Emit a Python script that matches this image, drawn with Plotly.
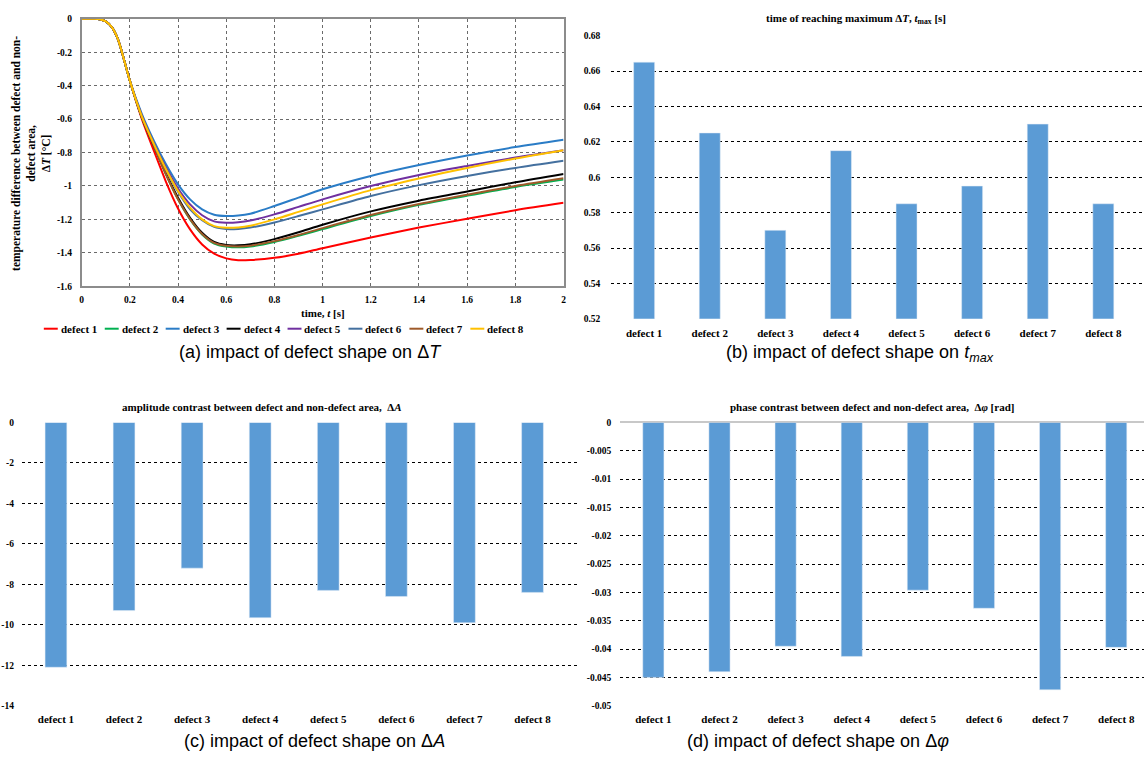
import plotly.graph_objects as go

W, H = 1147, 764

# ---------------- data ----------------
t_vals = [0, 0.05, 0.075, 0.1, 0.125, 0.15, 0.175, 0.2, 0.25, 0.3, 0.35, 0.4, 0.45, 0.5,
          0.55, 0.6, 0.65, 0.7, 0.8, 0.9, 1.0, 1.2, 1.4, 1.6, 1.8, 2.0]
early = [0, 0, -0.002, -0.015, -0.05, -0.12, -0.24, -0.37]
dT_defect1 = early + [-0.60, -0.79, -0.975, -1.135, -1.26, -1.35,
                      -1.405, -1.433, -1.444, -1.443, -1.43, -1.405, -1.372, -1.308, -1.249, -1.196, -1.145, -1.101]
dT_defect2 = early + [-0.59, -0.76, -0.93, -1.08, -1.20, -1.29,
                      -1.344, -1.362, -1.367, -1.362, -1.335, -1.298, -1.258, -1.18, -1.113, -1.058, -1.006, -0.962]
dT_defect3 = early + [-0.57, -0.73, -0.87, -0.99, -1.08, -1.14,
                      -1.172, -1.18, -1.177, -1.166, -1.12, -1.07, -1.02, -0.94, -0.875, -0.818, -0.767, -0.723]
dT_defect4 = early + [-0.59, -0.76, -0.925, -1.07, -1.19, -1.28,
                      -1.335, -1.353, -1.355, -1.349, -1.318, -1.277, -1.232, -1.152, -1.088, -1.033, -0.978, -0.928]
dT_defect5 = early + [-0.58, -0.745, -0.89, -1.015, -1.11, -1.175,
                      -1.212, -1.22, -1.217, -1.207, -1.17, -1.125, -1.08, -1.0, -0.934, -0.88, -0.83, -0.786]
dT_defect6 = early + [-0.585, -0.75, -0.90, -1.035, -1.14, -1.205,
                      -1.245, -1.258, -1.257, -1.249, -1.218, -1.18, -1.14, -1.06, -0.995, -0.94, -0.892, -0.849]
dT_defect7 = early + [-0.59, -0.76, -0.93, -1.08, -1.198, -1.287,
                      -1.34, -1.358, -1.362, -1.357, -1.33, -1.293, -1.252, -1.174, -1.108, -1.052, -1.0, -0.954]
dT_defect8 = early + [-0.585, -0.75, -0.90, -1.03, -1.13, -1.20,
                      -1.24, -1.25, -1.248, -1.238, -1.20, -1.155, -1.11, -1.025, -0.955, -0.892, -0.836, -0.786]

categories = ["defect 1", "defect 2", "defect 3", "defect 4", "defect 5", "defect 6", "defect 7", "defect 8"]
t_max = [0.665, 0.625, 0.57, 0.615, 0.585, 0.595, 0.63, 0.585]
amp_contrast = [-12.1, -9.3, -7.2, -9.65, -8.3, -8.6, -9.9, -8.4]
phase_contrast = [-0.045, -0.044, -0.0395, -0.0413, -0.0296, -0.0328, -0.0472, -0.0397]

a_xticks = [0, 0.2, 0.4, 0.6, 0.8, 1, 1.2, 1.4, 1.6, 1.8, 2]
a_xlabels = ["0", "0.2", "0.4", "0.6", "0.8", "1", "1.2", "1.4", "1.6", "1.8", "2"]
a_yticks = [0, -0.2, -0.4, -0.6, -0.8, -1, -1.2, -1.4, -1.6]
a_ylabels = ["0", "-0.2", "-0.4", "-0.6", "-0.8", "-1", "-1.2", "-1.4", "-1.6"]
b_yticks = [0.68, 0.66, 0.64, 0.62, 0.6, 0.58, 0.56, 0.54, 0.52]
b_ylabels = ["0.68", "0.66", "0.64", "0.62", "0.6", "0.58", "0.56", "0.54", "0.52"]
c_yticks = [0, -2, -4, -6, -8, -10, -12, -14]
c_ylabels = ["0", "-2", "-4", "-6", "-8", "-10", "-12", "-14"]
d_yticks = [0, -0.005, -0.01, -0.015, -0.02, -0.025, -0.03, -0.035, -0.04, -0.045, -0.05]
d_ylabels = ["0", "-0.005", "-0.01", "-0.015", "-0.02", "-0.025", "-0.03", "-0.035", "-0.04", "-0.045", "-0.05"]

line_names = categories
line_colors = ["#FF0000", "#00B050", "#2A7CC6", "#000000", "#7030A0", "#44709F", "#9E5A2A", "#FFC000"]
series = [dT_defect1, dT_defect2, dT_defect3, dT_defect4, dT_defect5, dT_defect6, dT_defect7, dT_defect8]

BAR = "#5B9BD5"
SERIF = "Liberation Serif"
SANS = "Liberation Sans"


def px(x):
    return x / W


def py(y):
    return 1 - y / H


fig = go.Figure()

for name, col, vals in zip(line_names, line_colors, series):
    fig.add_trace(go.Scatter(x=t_vals, y=vals, mode="lines", name=name,
                             line=dict(color=col, width=2, shape="spline", smoothing=0.8),
                             xaxis="x", yaxis="y", showlegend=False))

fig.add_trace(go.Bar(x=categories, y=t_max, marker_color=BAR, xaxis="x2", yaxis="y2", showlegend=False))
fig.add_trace(go.Bar(x=categories, y=amp_contrast, marker_color=BAR, xaxis="x3", yaxis="y3", showlegend=False))
fig.add_trace(go.Bar(x=categories, y=phase_contrast, marker_color=BAR, xaxis="x4", yaxis="y4", showlegend=False))

tickf = dict(family=SERIF, size=9.5, color="black", weight="bold")
catf = dict(family=SERIF, size=11, color="black", weight="bold")

fig.update_layout(
    width=W, height=H, margin=dict(l=0, r=0, t=0, b=0),
    paper_bgcolor="white", plot_bgcolor="white",
    bargap=0.68,
    xaxis=dict(domain=[px(80), px(564)], anchor="y", range=[0, 2], tickvals=a_xticks, ticktext=a_xlabels,
               showgrid=True, gridcolor="#6a6a6a", griddash="dot", gridwidth=1,
               showline=True, mirror=True, linecolor="#8c8c8c", linewidth=1.5,
               ticks="", tickfont=tickf, ticklabelstandoff=4, zeroline=False),
    yaxis=dict(domain=[py(285), py(14)], anchor="x", range=[-1.6, 0], tickvals=a_yticks, ticktext=a_ylabels,
               showgrid=True, gridcolor="#6a6a6a", griddash="dot", gridwidth=1,
               showline=True, mirror=True, linecolor="#8c8c8c", linewidth=1.5,
               ticks="", tickfont=tickf, ticklabelstandoff=6, zeroline=False),
    xaxis2=dict(domain=[px(612), 1], anchor="y2", type="category", range=[-0.5, 7.62],
                showgrid=False, showline=False, ticks="", tickfont=catf, ticklabelstandoff=6),
    yaxis2=dict(domain=[py(318), py(31)], anchor="x2", range=[0.52, 0.68], tickvals=b_yticks, ticktext=b_ylabels,
                showgrid=True, gridcolor="black", griddash="dot", gridwidth=1, zeroline=False,
                showline=False, ticks="", tickfont=tickf, ticklabelstandoff=10),
    xaxis3=dict(domain=[px(20), px(580)], anchor="y3", type="category", range=[-0.5, 7.69],
                showgrid=False, showline=False, ticks="", tickfont=catf, ticklabelstandoff=5),
    yaxis3=dict(domain=[py(710), py(423)], anchor="x3", range=[-14, 0], tickvals=c_yticks, ticktext=c_ylabels,
                showgrid=True, gridcolor="black", griddash="dot", gridwidth=1, zeroline=False,
                showline=False, ticks="", tickfont=tickf, ticklabelstandoff=7),
    xaxis4=dict(domain=[px(621), 1], anchor="y4", type="category", range=[-0.5, 7.42],
                showgrid=False, showline=False, ticks="", tickfont=catf, ticklabelstandoff=5),
    yaxis4=dict(domain=[py(710), py(423)], anchor="x4", range=[-0.05, 0], tickvals=d_yticks, ticktext=d_ylabels,
                showgrid=True, gridcolor="black", griddash="dot", gridwidth=1,
                zeroline=True, zerolinecolor="#c8c8c8", zerolinewidth=1.5,
                showline=False, ticks="", tickfont=tickf, ticklabelstandoff=8),
)

ann = []


def add_text(text, x, y, font, xanchor="center", angle=0):
    ann.append(dict(text=text, x=px(x), y=py(y), xref="paper", yref="paper", showarrow=False,
                    xanchor=xanchor, yanchor="middle", textangle=angle, font=font))


boldf = dict(family=SERIF, size=11, color="black", weight="bold")
# panel (a) axis titles
add_text("temperature difference between defect and non-<br>defect area,<br>Δ<i>T</i> [°C]", 29, 150,
         dict(family=SERIF, size=11.5, color="black", weight="bold"), angle=-90)
add_text("time, <i>t</i> [s]", 322, 312, boldf)
# chart titles
add_text("time of reaching maximum Δ<i>T</i>, <i>t</i><sub>max</sub> [s]", 858, 14, boldf)
add_text("amplitude contrast between defect and non-defect area,  Δ<i>A</i>", 261, 407, boldf)
add_text("phase contrast between defect and non-defect area,  Δ<i>φ</i> [rad]", 874, 407, boldf)
# captions
capf = dict(family=SANS, size=18, color="black")
add_text("(a) impact of defect shape on Δ<i>T</i>", 310, 352, capf)
add_text("(b) impact of defect shape on <i>t<sub>max</sub></i>", 862, 353, capf)
add_text("(c) impact of defect shape on Δ<i>A</i>", 314, 746, capf)
add_text("(d) impact of defect shape on Δ<i>φ</i>", 820, 746, capf)

# custom legend for panel (a)
shapes = []
for i, (name, col) in enumerate(zip(line_names, line_colors)):
    x0 = 42 + i * 61.2
    shapes.append(dict(type="line", xref="paper", yref="paper", x0=px(x0), x1=px(x0 + 14),
                       y0=py(328), y1=py(328), line=dict(color=col, width=2)))
    add_text(name, x0 + 15, 328, boldf, xanchor="left")

fig.update_layout(annotations=ann, shapes=shapes)

fig.write_html("out.html", config={"displayModeBar": False},
               post_script="document.body.style.margin='0px';document.body.style.overflow='hidden';")
